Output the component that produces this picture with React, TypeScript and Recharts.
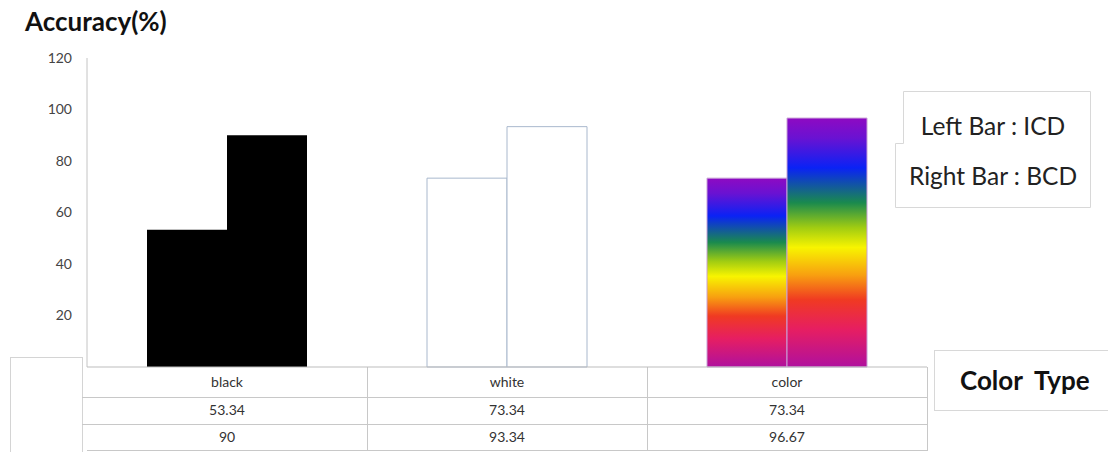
import { BarChart, Bar, XAxis, YAxis, Cell } from "recharts";

const categories = ["black", "white", "color"];
const icdValues = [53.34, 73.34, 73.34];
const bcdValues = [90, 93.34, 96.67];
const yTicks = [20, 40, 60, 80, 100, 120];
const legendLines = ["Left Bar : ICD", "Right Bar : BCD"];

const data = categories.map((name, i) => ({ name, icd: icdValues[i], bcd: bcdValues[i] }));

const FONT = "Lato, 'Open Sans', sans-serif";

const fills: Record<string, { fill: string; stroke: string }> = {
  black: { fill: "#000000", stroke: "none" },
  white: { fill: "#ffffff", stroke: "#a9b8cd" },
  color: { fill: "url(#rainbow)", stroke: "#c8a0d6" },
};

function TableTick(props: any) {
  const { x, y, payload } = props;
  const i = categories.indexOf(payload.value);
  return (
    <g fontFamily={FONT} fontSize={14} fill="#333" textAnchor="middle">
      <text x={x} y={y + 12}>{payload.value}</text>
      <text x={x} y={y + 40}>{icdValues[i]}</text>
      <text x={x} y={y + 67}>{bcdValues[i]}</text>
    </g>
  );
}

export default function App() {
  const line = "#c8c8c8";
  return (
    <div style={{ position: "absolute", left: 0, top: 0, width: 1108, height: 452, background: "#fff", fontFamily: FONT }}>
      <div style={{ position: "absolute", left: 25, top: 5, fontSize: 26, fontWeight: 700, color: "#111" }}>Accuracy(%)</div>

      <svg width={1108} height={452} style={{ position: "absolute", left: 0, top: 0 }}>
        {/* left stub box */}
        <rect x={10.5} y={357.5} width={72} height={100} fill="#fff" stroke="#d4d4d4" />
        {/* table grid */}
        <line x1={82} y1={397.5} x2={927} y2={397.5} stroke={line} />
        <line x1={82} y1={424.5} x2={927} y2={424.5} stroke={line} />
        <line x1={87} y1={450.5} x2={927} y2={450.5} stroke={line} />
        <line x1={367.5} y1={367} x2={367.5} y2={451} stroke={line} />
        <line x1={647.5} y1={367} x2={647.5} y2={451} stroke={line} />
        <line x1={927.5} y1={367} x2={927.5} y2={451} stroke={line} />
        {/* legend box */}
        <path d="M903.5 91.5 H1090.5 V207.5 H895.5 V143.5 H903.5 Z" fill="#fff" stroke="#d8d8d8" />
        {/* color type box */}
        <rect x={934.5} y={350.5} width={180} height={60} fill="#fff" stroke="#d8d8d8" />
      </svg>

      <div style={{ position: "absolute", left: 0, top: 0 }}>
        <BarChart
          width={1108}
          height={452}
          data={data}
          margin={{ top: 58, right: 181, bottom: 0, left: 0 }}
          barSize={80}
          barGap={0}
        >
          <defs>
            <linearGradient id="rainbow" x1="0" y1="0" x2="0" y2="1">
              <stop offset="0%" stopColor="#8e0ac2" />
              <stop offset="8%" stopColor="#6a12d2" />
              <stop offset="20%" stopColor="#0a22f5" />
              <stop offset="34%" stopColor="#1a8a4e" />
              <stop offset="44%" stopColor="#a0cc12" />
              <stop offset="52%" stopColor="#f8f400" />
              <stop offset="63%" stopColor="#f8a010" />
              <stop offset="73%" stopColor="#f03a22" />
              <stop offset="85%" stopColor="#e61e62" />
              <stop offset="100%" stopColor="#b0109e" />
            </linearGradient>
          </defs>
          <YAxis
            width={87}
            domain={[0, 120]}
            ticks={yTicks}
            tickLine={false}
            tickMargin={9}
            axisLine={{ stroke: "#c4c4c4" }}
            tick={{ fontSize: 14, fill: "#444", fontFamily: FONT }}
          />
          <XAxis
            dataKey="name"
            height={85}
            axisLine={{ stroke: "#bdbdbd" }}
            tickLine={false}
            tick={<TableTick />}
            interval={0}
          />
          <Bar dataKey="icd" isAnimationActive={false}>
            {categories.map((c) => (
              <Cell key={c} fill={fills[c].fill} stroke={fills[c].stroke} />
            ))}
          </Bar>
          <Bar dataKey="bcd" isAnimationActive={false}>
            {categories.map((c) => (
              <Cell key={c} fill={fills[c].fill} stroke={fills[c].stroke} />
            ))}
          </Bar>
        </BarChart>
      </div>

      <div style={{ position: "absolute", left: 895, top: 101, width: 196, textAlign: "center", fontSize: 24.5, color: "#222", lineHeight: "50px" }}>
        {legendLines.map((t) => (
          <div key={t}>{t}</div>
        ))}
      </div>
      <div style={{ position: "absolute", left: 960, top: 364, fontSize: 26, fontWeight: 700, color: "#111", wordSpacing: 6 }}>Color Type</div>
    </div>
  );
}
